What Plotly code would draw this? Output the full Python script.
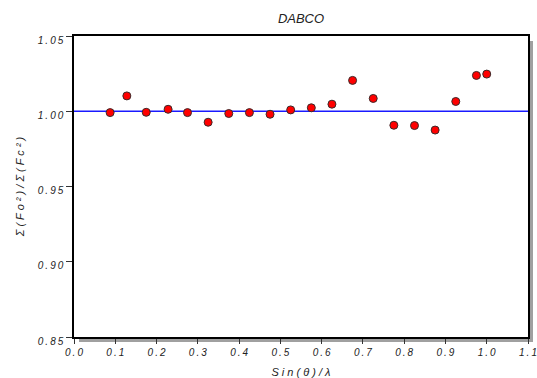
import plotly.graph_objects as go

# ---- data ----
sin_theta_over_lambda = [0.0875, 0.128, 0.175, 0.228, 0.275, 0.325, 0.375, 0.425, 0.475, 0.525,
                         0.575, 0.625, 0.675, 0.725, 0.775, 0.825, 0.875, 0.925, 0.975, 1.0]
ratio = [0.9991, 1.0102, 0.9993, 1.0013, 0.9991, 0.9927, 0.9985, 0.9991, 0.9980, 1.0009,
         1.0023, 1.0047, 1.0205, 1.0085, 0.9907, 0.9905, 0.9875, 1.0065, 1.0238, 1.0247]
reference_level = 1.0
x_ticks = [0.0, 0.1, 0.2, 0.3, 0.4, 0.5, 0.6, 0.7, 0.8, 0.9, 1.0, 1.1]
x_tick_labels = ["0.0", "0.1", "0.2", "0.3", "0.4", "0.5", "0.6", "0.7", "0.8", "0.9", "1.0", "1.1"]
y_ticks = [0.85, 0.90, 0.95, 1.00, 1.05]
y_tick_labels = ["0.85", "0.90", "0.95", "1.00", "1.05"]
title_text = "DABCO"
x_title = "Sin(θ)/λ"
y_title = "Σ(Fo²)/Σ(Fc²)"


def spaced(s, sep="\u2009"):
    return sep.join(list(s))


W, H = 537, 378
ml, mr, mt, mb = 74, 9, 36, 41
pw, ph = W - ml - mr, H - mt - mb
dx, dy = 5 / pw, 5 / ph

font_fam = "Liberation Sans, Arial, sans-serif"
tfont = dict(family=font_fam, size=10, color="#222", style="italic")
afont = dict(family=font_fam, size=11, color="#222", style="italic")

fig = go.Figure()
fig.add_trace(go.Scatter(
    x=sin_theta_over_lambda, y=ratio, mode="markers",
    marker=dict(size=8, color="#ff0000", line=dict(color="#3a2a2a", width=1)),
    showlegend=False, cliponaxis=False,
))

fig.add_hline(y=reference_level, line=dict(color="#1a1aff", width=1.6), layer="below")

# drop shadow strips (right and bottom)
fig.add_shape(type="rect", xref="paper", yref="paper", x0=1, x1=1 + dx, y0=-dy, y1=1 - dy,
              fillcolor="#a0a0a0", line_width=0, layer="below")
fig.add_shape(type="rect", xref="paper", yref="paper", x0=dx, x1=1 + dx, y0=-dy, y1=0,
              fillcolor="#a0a0a0", line_width=0, layer="below")

fig.update_layout(
    width=W, height=H,
    margin=dict(l=ml, r=mr, t=mt, b=mb, autoexpand=False),
    paper_bgcolor="white", plot_bgcolor="white",
    title=dict(text=title_text, x=(ml + pw / 2) / W, xanchor="center", y=1 - 18 / H, yanchor="middle",
               font=dict(family=font_fam, size=13, color="#222", style="italic")),
    xaxis=dict(range=[0, 1.1], tickvals=x_ticks, ticktext=[spaced(t) for t in x_tick_labels],
               automargin=False,
               showgrid=False, zeroline=False, showline=True, linecolor="black", linewidth=1.5,
               mirror=True, ticks="outside", ticklen=5, tickcolor="#333", tickfont=tfont,
               title=dict(text=spaced(x_title, " "), font=afont, standoff=12)),
    yaxis=dict(range=[0.85, 1.05], tickvals=y_ticks, ticktext=[spaced(t) for t in y_tick_labels],
               automargin=False,
               showgrid=False, zeroline=False, showline=True, linecolor="black", linewidth=1.5,
               mirror=True, ticks="outside", ticklen=6, tickcolor="#333", tickfont=tfont,
               ticklabelshift=4, ticklabelstandoff=1,
               title=dict(text=spaced(y_title, " "), font=afont, standoff=11)),
)

fig.write_html("out.html")
